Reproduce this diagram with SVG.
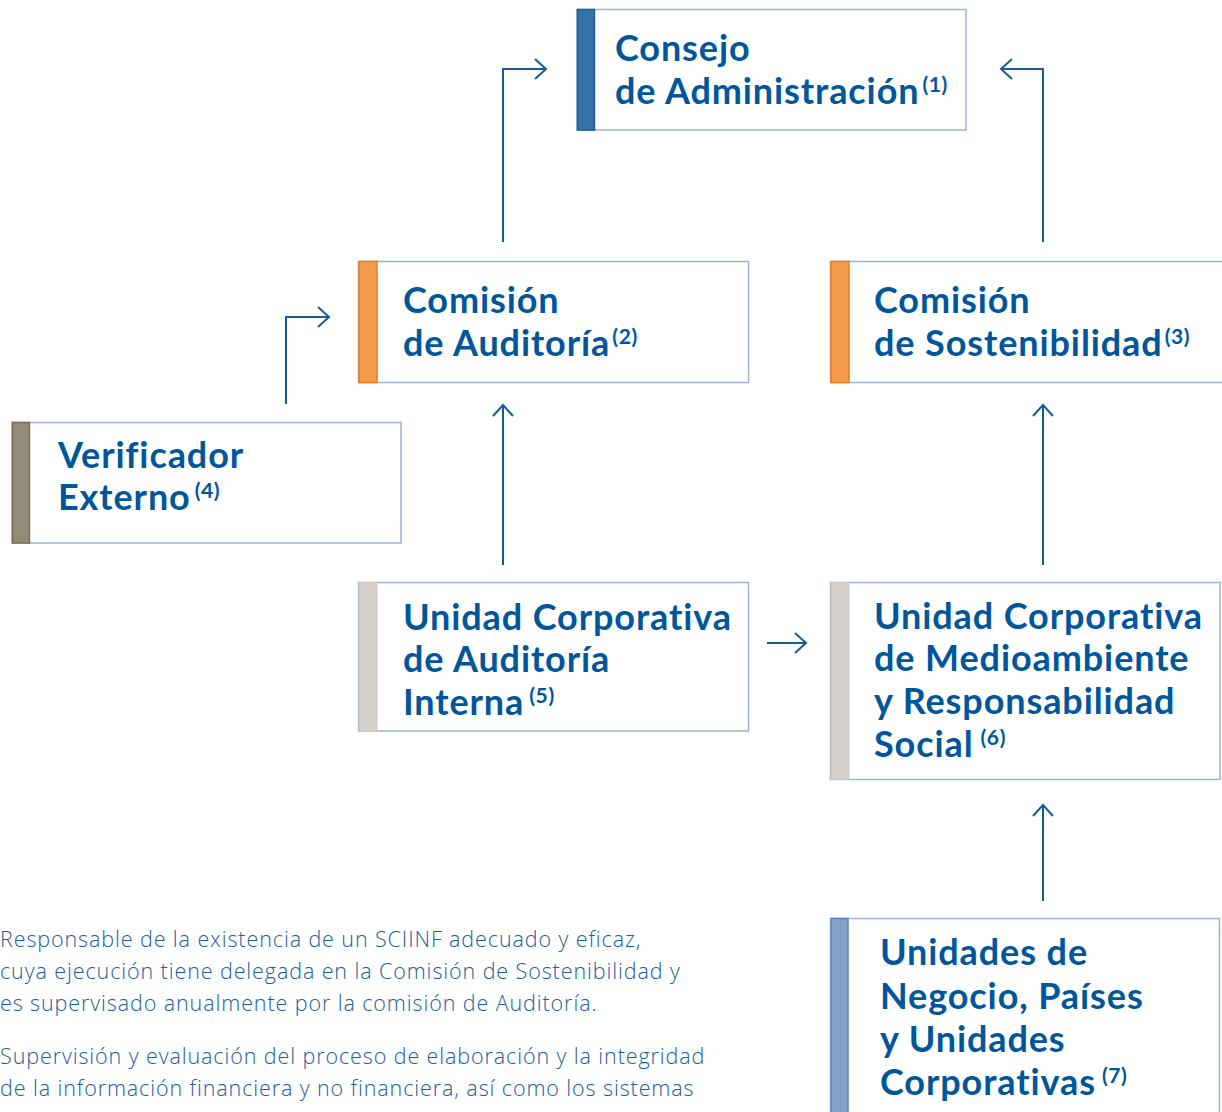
<svg xmlns="http://www.w3.org/2000/svg" width="1222" height="1112" viewBox="0 0 1222 1112">
<style>
.box{fill:#ffffff;stroke:#9db3d3;stroke-width:1.5}
.t{font-family:Lato,"Liberation Sans",sans-serif;font-weight:700;font-size:36px;letter-spacing:0.9px;fill:#00569a}
.sup{font-size:21px;letter-spacing:0.6px}
.c{fill:none;stroke:#18599a;stroke-width:2}
.fn{font-family:"Open Sans","Liberation Sans",sans-serif;font-weight:300;font-size:21.5px;letter-spacing:0.9px;fill:#1b5c9c}
</style>
<defs>
<marker id="ah" markerUnits="userSpaceOnUse" markerWidth="30" markerHeight="30" viewBox="-15 -15 30 30" refX="0" refY="0" orient="auto">
<path d="M-11,-10 L0,0 L-11,10" fill="none" stroke="#18599a" stroke-width="2"/>
</marker>
</defs>
<rect width="1222" height="1112" fill="#ffffff"/>

<g id="consejo">
<rect class="box" x="577" y="9.5" width="389" height="120.5"/>
<rect x="577.5" y="9.5" width="17" height="120.5" fill="#3473a9" stroke="#1f5d95" stroke-width="1.5"/>
<text class="t" x="615" y="61">Consejo</text>
<text class="t" x="615" y="104">de Administración<tspan class="sup" dx="3" dy="-12">(1)</tspan></text>
</g>

<g id="comision-auditoria">
<rect class="box" x="358.5" y="261.5" width="390" height="121"/>
<rect x="359" y="261.5" width="18" height="121" fill="#f39a4b" stroke="#ec7b18" stroke-width="1.5"/>
<text class="t" x="403" y="313">Comisión</text>
<text class="t" x="403" y="356">de Auditoría<tspan class="sup" dx="2" dy="-12">(2)</tspan></text>
</g>

<g id="comision-sostenibilidad">
<rect class="box" x="830.5" y="261.5" width="400" height="121"/>
<rect x="831" y="261.5" width="18" height="121" fill="#f39a4b" stroke="#ec7b18" stroke-width="1.5"/>
<text class="t" x="874" y="313">Comisión</text>
<text class="t" x="874" y="356">de Sostenibilidad<tspan class="sup" dx="2" dy="-12">(3)</tspan></text>
</g>

<g id="verificador">
<rect class="box" x="12" y="422.5" width="389" height="120.5"/>
<rect x="12.5" y="422.5" width="17" height="120.5" fill="#938a77" stroke="#786e5b" stroke-width="1.5"/>
<text class="t" x="58" y="468">Verificador</text>
<text class="t" x="58" y="510">Externo<tspan class="sup" dx="4" dy="-12">(4)</tspan></text>
</g>

<g id="auditoria-interna">
<rect class="box" x="358.5" y="582.5" width="390" height="148.5"/>
<rect x="359" y="582.5" width="18" height="148.5" fill="#d6d0cb" stroke="#cdc6c0" stroke-width="1"/>
<text class="t" x="403" y="630">Unidad Corporativa</text>
<text class="t" x="403" y="672">de Auditoría</text>
<text class="t" x="403" y="715">Interna<tspan class="sup" dx="5" dy="-12">(5)</tspan></text>
</g>

<g id="medioambiente">
<rect class="box" x="830.5" y="582.5" width="389.5" height="197"/>
<rect x="831" y="582.5" width="18" height="197" fill="#d6d0cb" stroke="#cdc6c0" stroke-width="1"/>
<text class="t" x="874" y="629">Unidad Corporativa</text>
<text class="t" x="874" y="671">de Medioambiente</text>
<text class="t" x="874" y="714">y Responsabilidad</text>
<text class="t" x="874" y="757">Social<tspan class="sup" dx="7" dy="-12">(6)</tspan></text>
</g>

<g id="unidades-negocio">
<rect class="box" x="830.5" y="918.5" width="389" height="210"/>
<rect x="831" y="918.5" width="17" height="210" fill="#84a2c8" stroke="#5d87ba" stroke-width="1.5"/>
<text class="t" x="880" y="965">Unidades de</text>
<text class="t" x="880" y="1009">Negocio, Países</text>
<text class="t" x="880" y="1052">y Unidades</text>
<text class="t" x="880" y="1095">Corporativas<tspan class="sup" dx="6" dy="-12">(7)</tspan></text>
</g>

<g id="connectors">
<path class="c" d="M503,242 V69 H546" marker-end="url(#ah)"/>
<path class="c" d="M1043,242 V69 H1001" marker-end="url(#ah)"/>
<path class="c" d="M286,404 V317 H329" marker-end="url(#ah)"/>
<path class="c" d="M503,565 V405" marker-end="url(#ah)"/>
<path class="c" d="M1043,565 V405" marker-end="url(#ah)"/>
<path class="c" d="M767,643 H806" marker-end="url(#ah)"/>
<path class="c" d="M1043,901 V805" marker-end="url(#ah)"/>
</g>

<g id="notes">
<text class="fn" x="0" y="947">Responsable de la existencia de un SCIINF adecuado y eficaz,</text>
<text class="fn" x="0" y="979">cuya ejecución tiene delegada en la Comisión de Sostenibilidad y</text>
<text class="fn" x="0" y="1011">es supervisado anualmente por la comisión de Auditoría.</text>
<text class="fn" x="0" y="1064">Supervisión y evaluación del proceso de elaboración y la integridad</text>
<text class="fn" x="0" y="1096">de la información financiera y no financiera, así como los sistemas</text>
</g>
</svg>
